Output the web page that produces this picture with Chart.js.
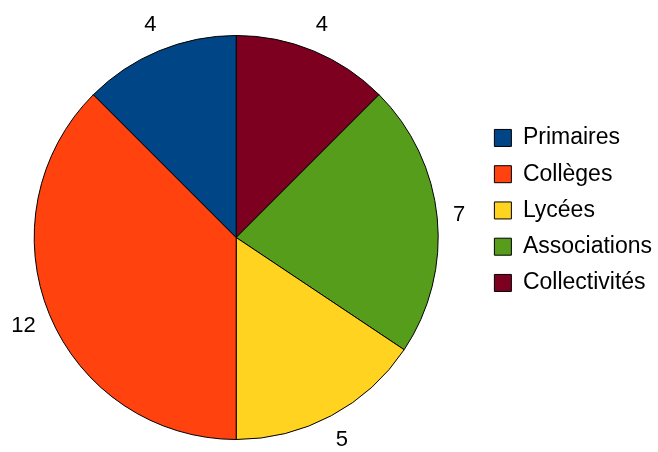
<!DOCTYPE html>
<html>
<head>
<meta charset="utf-8">
<script src="https://cdn.jsdelivr.net/npm/chart.js@4/dist/chart.umd.min.js"></script>
<style>
  html, body { margin: 0; padding: 0; background: #fff; overflow: hidden; }
  /* le canevas déborde un peu à gauche pour centrer le camembert comme l'original */
  #wrap { width: 668px; height: 452px; margin-left: -10px; }
</style>
</head>
<body>
<div id="wrap"><canvas id="pieChart"></canvas></div>
<script>
// données (ordre de la légende)
const categories = ['Primaires', 'Collèges', 'Lycées', 'Associations', 'Collectivités'];
const values = [4, 12, 5, 7, 4];
const colors = ['#004586', '#ff420e', '#ffd320', '#579d1c', '#7e0021'];

// le camembert d'origine tourne dans le sens anti-horaire :
// on inverse l'ordre pour Chart.js et on ré-inverse la légende
const rev = arr => arr.slice().reverse();

const FONT = { family: '"Liberation Sans", Arial, sans-serif', size: 22 };
const LEGEND_FONT = { family: FONT.family, size: 23 };

// étiquettes de valeur à l'extérieur des parts
const valueLabels = {
    id: 'valueLabels',
    afterDatasetsDraw(chart) {
        const ctx = chart.ctx;
        const meta = chart.getDatasetMeta(0);
        const data = chart.data.datasets[0].data;
        ctx.save();
        ctx.font = FONT.size + 'px ' + FONT.family;
        ctx.fillStyle = '#000';
        ctx.textAlign = 'center';
        ctx.textBaseline = 'middle';
        meta.data.forEach((arc, i) => {
            const mid = (arc.startAngle + arc.endAngle) / 2;
            const dx = Math.cos(mid), dy = Math.sin(mid);
            const text = String(data[i]);
            const w = ctx.measureText(text).width;
            const r = arc.outerRadius + 16;
            ctx.fillText(text, arc.x + dx * (r + w / 2), arc.y + dy * (r + 12));
        });
        ctx.restore();
    }
};

new Chart(document.getElementById('pieChart'), {
    type: 'pie',
    data: {
        labels: rev(categories),
        datasets: [{
            data: rev(values),
            backgroundColor: rev(colors),
            borderColor: '#000',
            borderWidth: 1
        }]
    },
    options: {
        responsive: true,
        maintainAspectRatio: false,
        animation: false,
        events: [],
        layout: { padding: { top: 35, bottom: 12, left: 1.25, right: -4 } },
        plugins: {
            tooltip: { enabled: false },
            legend: {
                position: 'right',
                align: 'start',
                reverse: true,
                title: { display: true, text: '', font: { size: 1 }, padding: { top: 77 } },
                labels: {
                    color: '#000',
                    font: LEGEND_FONT,
                    boxWidth: 17,
                    boxHeight: 17,
                    padding: 13.25
                }
            }
        }
    },
    plugins: [valueLabels]
});
</script>
</body>
</html>
